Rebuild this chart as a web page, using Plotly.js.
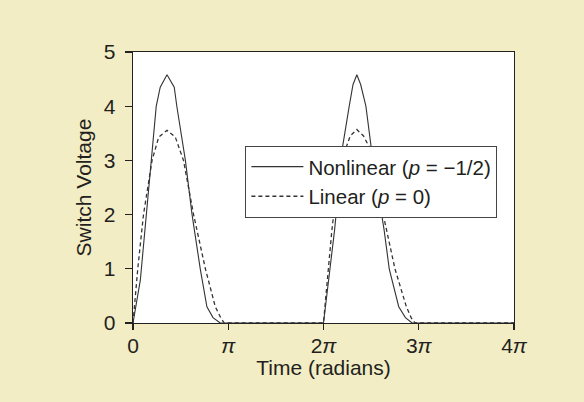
<!DOCTYPE html>
<html>
<head>
<meta charset="utf-8">
<script src="https://cdn.plot.ly/plotly-3.0.1.min.js"></script>
<style>html,body{margin:0;padding:0;background:#F2EDC4;}</style>
</head>
<body>
<div id="chart" style="width:584px;height:402px;"></div>
<script>
// time in units of pi (radians / pi)
const tNonlinear = [0, 0.03, 0.077, 0.14, 0.19, 0.244, 0.286, 0.357, 0.433, 0.46, 0.55, 0.62, 0.706, 0.776, 0.84, 0.916,
  2.0, 2.02, 2.07, 2.116, 2.16, 2.2, 2.27, 2.31, 2.35, 2.39, 2.445, 2.5, 2.57, 2.637, 2.69, 2.79, 2.86, 2.93, 4.0];
const vNonlinear = [0, 0.3, 0.79, 2.0, 3.0, 4.0, 4.35, 4.58, 4.35, 4.0, 3.0, 2.0, 1.0, 0.3, 0.1, 0,
  0, 0.3, 1.0, 1.71, 2.5, 3.25, 4.0, 4.4, 4.58, 4.4, 4.0, 3.25, 2.45, 1.71, 1.0, 0.3, 0.1, 0, 0];
const tLinear = [0, 0.02, 0.05, 0.11, 0.2, 0.27, 0.357, 0.444, 0.53, 0.636, 0.76, 0.864, 0.92, 0.958,
  2.0, 2.02, 2.05, 2.088, 2.14, 2.2, 2.24, 2.28, 2.35, 2.42, 2.48, 2.52, 2.59, 2.66, 2.75, 2.87, 2.92, 2.96, 4.0];
const vLinear = [0, 0.4, 1.0, 2.0, 3.0, 3.43, 3.555, 3.43, 3.0, 2.0, 1.0, 0.3, 0.1, 0,
  0, 0.4, 1.0, 1.71, 2.5, 3.0, 3.25, 3.45, 3.57, 3.45, 3.25, 2.8, 2.3, 1.71, 1.0, 0.3, 0.1, 0, 0];
const xTickVals = [0, 1, 2, 3, 4];
const xTickText = ['0', '<i>π</i>', '2<i>π</i>', '3<i>π</i>', '4<i>π</i>'];
const yTickVals = [0, 1, 2, 3, 4, 5];
const seriesNames = ['Nonlinear (<i>p</i> = −1/2)', 'Linear (<i>p</i> = 0)'];

const font = {family: 'Liberation Sans, Arial, sans-serif', size: 21, color: '#231f20'};

const traces = [
  {x: tNonlinear, y: vNonlinear, mode: 'lines', name: seriesNames[0],
   line: {color: '#333333', width: 1.1}},
  {x: tLinear, y: vLinear, mode: 'lines', name: seriesNames[1],
   line: {color: '#333333', width: 1.3, dash: '4px,3px'}}
];

const layout = {
  width: 584, height: 402,
  paper_bgcolor: '#F2EDC4',
  plot_bgcolor: '#FFFFFF',
  font: font,
  margin: {l: 133, r: 70, t: 52, b: 79},
  showlegend: true,
  legend: {x: 0.295, y: 0.654, xanchor: 'left', yanchor: 'top',
    bgcolor: '#FFFFFF', bordercolor: '#444444', borderwidth: 1,
    itemwidth: 52,
    font: {family: font.family, size: 20.5, color: '#231f20'}, tracegroupgap: 0},
  xaxis: {
    range: [0, 4], tickvals: xTickVals, ticktext: xTickText,
    showgrid: false, zeroline: false, showline: true, mirror: true,
    linecolor: '#222222', linewidth: 1.3,
    ticks: 'outside', ticklen: 6, tickcolor: '#222222', tickwidth: 1.3,
    ticklabelstandoff: -3,
    tickfont: {size: 21},
    title: {text: 'Time (radians)', font: {size: 21}, standoff: 0}
  },
  yaxis: {
    range: [0, 5], tickvals: yTickVals,
    showgrid: false, zeroline: false, showline: true, mirror: true,
    linecolor: '#222222', linewidth: 1.3,
    ticks: 'outside', ticklen: 7, tickcolor: '#222222', tickwidth: 1.3,
    ticklabelstandoff: 5,
    tickfont: {size: 21},
    title: {text: 'Switch Voltage', font: {size: 21}, standoff: 6}
  }
};

Plotly.newPlot('chart', traces, layout, {displayModeBar: false, staticPlot: true});
</script>
</body>
</html>
